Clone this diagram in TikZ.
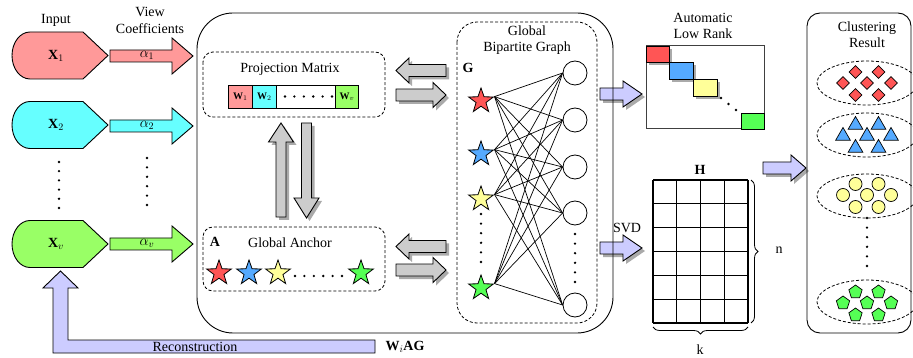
\documentclass[tikz,border=0pt]{standalone}
\usepackage{fontspec}
\setmainfont{Liberation Serif}
\usetikzlibrary{shapes.geometric,shadows,decorations.pathreplacing}

\definecolor{salmon}{HTML}{FF9999}
\definecolor{aqua}{HTML}{66FFFF}
\definecolor{lime}{HTML}{99FF66}
\definecolor{starred}{HTML}{FF5555}
\definecolor{starblue}{HTML}{55AAFF}
\definecolor{staryellow}{HTML}{FFFF99}
\definecolor{stargreen}{HTML}{55FF55}
\definecolor{lavender}{HTML}{CCCCFF}
\definecolor{arrowgray}{HTML}{CCCCCC}
\definecolor{shadowgray}{HTML}{AAAAAA}

% horizontal block arrow: style, x tail, x head base, x tip, y centre, shaft half width, head half width
\newcommand\blockH[7]{\draw[#1] (#2,{#5-#6}) -- (#3,{#5-#6}) -- (#3,{#5-#7}) -- (#4,#5)
  -- (#3,{#5+#7}) -- (#3,{#5+#6}) -- (#2,{#5+#6}) -- cycle;}
% vertical block arrow: style, y tail, y head base, y tip, x centre, shaft half width, head half width
\newcommand\blockV[7]{\draw[#1] ({#5-#6},#2) -- ({#5-#6},#3) -- ({#5-#7},#3) -- (#5,#4)
  -- ({#5+#7},#3) -- ({#5+#6},#3) -- ({#5+#6},#2) -- cycle;}
% input view shape: style, y centre
\newcommand\inputshape[2]{\draw[#1] (30,{#2+23.5}) arc[start angle=90,end angle=270,x radius=18,y radius=23.5]
  -- (83,{#2-23.5}) -- (108,#2) -- (83,{#2+23.5}) -- cycle;}

\tikzset{
  outline/.style={draw=black, line width=0.9pt},
  dashbox/.style={draw=black, line width=0.8pt, dash pattern=on 3pt off 2pt},
  softshadow/.style={drop shadow={shadow xshift=3pt, shadow yshift=-3pt, fill=shadowgray, opacity=1}},
  grayarrow/.style={outline, fill=arrowgray, softshadow},
  bluearrow/.style={outline, fill=lavender, softshadow},
  lbl/.style={inner sep=0pt, font=\fontsize{14}{16}\selectfont},
  anchorstar/.style={star, star points=5, star point ratio=2.5, minimum size=26pt, inner sep=0pt, draw=black, line width=0.8pt},
  vertex/.style={circle, minimum size=24pt, inner sep=0pt, draw=black, line width=0.8pt, fill=white},
  cell/.style={draw=black, line width=0.9pt, minimum width=24pt, minimum height=23pt, inner sep=0pt, anchor=west},
  member/.style={draw=black, line width=0.7pt, inner sep=0pt},
  dotmark/.style={circle, fill=black, inner sep=0pt, minimum size=2.6pt},
}

\begin{document}
\begin{tikzpicture}[x=1pt,y=-1pt]
\useasboundingbox (0,0) rectangle (913,358);

% ---------- input views and view coefficients ----------
\node[lbl] (inputlbl) at (56,20) {Input};
\node[lbl] (viewlbl) at (150,12) {View};
\node[lbl] (coeflbl) at (150,29) {Coefficients};

\inputshape{outline, fill=salmon}{55.5}
\inputshape{outline, fill=aqua}{125}
\inputshape{outline, fill=lime}{244}
\node[lbl] (x1) at (56,55.5) {$\mathbf{X}_1$};
\node[lbl] (x2) at (56,125) {$\mathbf{X}_2$};
\node[lbl] (xv) at (56,244) {$\mathbf{X}_v$};

\blockH{outline, fill=salmon}{110}{172}{193}{56}{6}{18}
\blockH{outline, fill=aqua}{110}{172}{193}{126}{6}{18}
\blockH{outline, fill=lime}{110}{172}{193}{244}{6}{18}
\node[lbl] (a1) at (147,55) {$\alpha_1$};
\node[lbl] (a2) at (147,125) {$\alpha_2$};
\node[lbl] (av) at (147,243) {$\alpha_v$};

\foreach \i in {0,...,5} {
  \node[dotmark] at (59,{162+9.2*\i}) {};
  \node[dotmark] at (147,{158+9.4*\i}) {};
}

% ---------- reconstruction feedback ----------
\draw[outline, fill=lavender] (60.5,271) -- (78,288) -- (68,288) -- (68,340) -- (375,340)
  -- (375,353) -- (53,353) -- (53,288) -- (43,288) -- cycle;
\node[lbl] (recon) at (195,346.5) {Reconstruction};
\node[lbl] (wag) at (405,347) {$\mathbf{W}_i\mathbf{AG}$};

% ---------- arrows leaving the model ----------
\blockH{bluearrow}{600}{623}{642}{94}{6}{13}
\blockH{bluearrow}{600}{623}{642}{248}{6}{13}
\blockH{bluearrow}{763}{791}{806}{168}{6}{13}
\node[lbl] (svd) at (627,228) {SVD};

% ---------- model frame ----------
\draw[outline, rounded corners=36pt] (197,13) rectangle (613,333);
\draw[dashbox, rounded corners=10pt] (203,52) rectangle (385,117);
\draw[dashbox, rounded corners=10pt] (203,227) rectangle (385,291);
\draw[dashbox, rounded corners=20pt] (457,22) rectangle (597,323);

% projection matrix
\node[lbl] (projlbl) at (290,69) {Projection Matrix};
\node[cell, fill=salmon] (w1) at (228,96.5) {$\mathbf{W}_1$};
\node[cell, fill=aqua] (w2) at (252,96.5) {$\mathbf{W}_2$};
\node[cell, fill=white, minimum width=59pt] (wdots) at (276,96.5) {};
\node[cell, fill=lime, minimum width=23pt] (wv) at (335,96.5) {$\mathbf{W}_v$};
\foreach \i in {0,...,5} \node[dotmark] at ({285+9.4*\i},96.5) {};

% global anchor
\node[lbl] (alabel) at (215,242) {$\mathbf{A}$};
\node[lbl] (anchorlbl) at (290,243) {Global Anchor};
\node[anchorstar, fill=starred] (s1) at (219,273) {};
\node[anchorstar, fill=starblue] (s2) at (249,273) {};
\node[anchorstar, fill=staryellow] (s3) at (278,273) {};
\node[anchorstar, fill=stargreen] (s4) at (361,273) {};
\foreach \i in {0,...,5} \node[dotmark] at ({295+9.4*\i},276) {};

% exchange arrows
\blockV{grayarrow}{217}{142}{123}{281}{5}{12.5}
\blockV{grayarrow}{123}{198}{218}{306.5}{5}{12.5}
\blockH{grayarrow}{446}{409}{396}{70.5}{6}{12.5}
\blockH{grayarrow}{396}{433}{446}{95}{6}{12.5}
\blockH{grayarrow}{446}{409}{396}{246.5}{6}{12.5}
\blockH{grayarrow}{396}{433}{446}{270}{6}{12.5}

% bipartite graph
\node[lbl] (globallbl) at (527,31) {Global};
\node[lbl] (bipartlbl) at (527,48) {Bipartite Graph};
\node[lbl] (glabel) at (468,68) {$\mathbf{G}$};
\node[anchorstar, fill=starred] (g1) at (481,101) {};
\node[anchorstar, fill=starblue] (g2) at (481,154) {};
\node[anchorstar, fill=staryellow] (g3) at (481,199) {};
\node[anchorstar, fill=stargreen] (g4) at (481,288) {};
\node[vertex] (c1) at (575,73) {};
\node[vertex] (c2) at (575,120) {};
\node[vertex] (c3) at (575,167) {};
\node[vertex] (c4) at (575,213) {};
\node[vertex] (c5) at (575,305) {};
\foreach \s in {g1,g2,g3,g4}
  \foreach \c in {c1,c2,c3,c4,c5}
    \draw[line width=0.7pt] (\s.outer point 5) -- (\c.west);
\foreach \i in {0,...,5} {
  \node[dotmark] at (481,{214+9.6*\i}) {};
  \node[dotmark] at (575,{234+9.6*\i}) {};
}

% ---------- automatic low rank ----------
\node[lbl] (autolbl) at (703,18) {Automatic};
\node[lbl] (lowlbl) at (703,34) {Low Rank};
\draw[draw=black!75, line width=1pt] (646,46) rectangle (764,129);
\draw[outline, fill=starred, softshadow] (646,46) rectangle (669,62);
\draw[outline, fill=starblue, softshadow] (669,62) rectangle (693,79);
\draw[outline, fill=staryellow, softshadow] (693,79) rectangle (717,96);
\draw[outline, fill=stargreen] (741,113) rectangle (764,129);
\node[dotmark] at (721,98) {};
\node[dotmark] at (728.5,104) {};
\node[dotmark] at (736,110) {};

% ---------- embedding H ----------
\node[lbl] (hlabel) at (700,170) {$\mathbf{H}$};
\foreach \i in {0,...,4} \draw[line width=1.1pt] ({653+23.75*\i},180) -- ({653+23.75*\i},323);
\foreach \j in {0,...,6} \draw[line width=1.1pt] (653,{180+23.83*\j}) -- (748,{180+23.83*\j});
\draw[line width=0.8pt, decorate, decoration={brace, amplitude=7pt}] (751,180) -- (751,323);
\draw[line width=0.8pt, decorate, decoration={brace, amplitude=7pt}] (748,327) -- (653,327);
\node[lbl] (nlabel) at (779,250) {n};
\node[lbl] (klabel) at (700,350) {k};

% ---------- clustering result ----------
\draw[outline, rounded corners=13pt] (807,13) rectangle (911,333);
\node[lbl] (clustlbl) at (867,28) {Clustering};
\node[lbl] (resultlbl) at (867,43) {Result};
\foreach \cy in {83,135,196,302}
  \draw[dashbox] (867,\cy) ellipse[x radius=50, y radius=22];
\foreach \dx/\dy in {-11.5/-11,11.5/-11,-24/0,0/0,24/0,-11.5/12,11.5/12} {
  \node[member, diamond, fill=starred, minimum size=13pt] at ({867+\dx},{83+\dy}) {};
  \node[member, regular polygon, regular polygon sides=3, fill=starblue, minimum size=17pt] at ({867+\dx},{136+\dy}) {};
  \node[member, circle, fill=staryellow, minimum size=13pt] at ({867+\dx},{195+\dy}) {};
  \node[member, regular polygon, regular polygon sides=5, fill=stargreen, minimum size=14pt] at ({867+\dx},{303+\dy}) {};
}
\foreach \i in {0,...,5} \node[dotmark] at (867,{218+9.6*\i}) {};

\end{tikzpicture}
\end{document}
